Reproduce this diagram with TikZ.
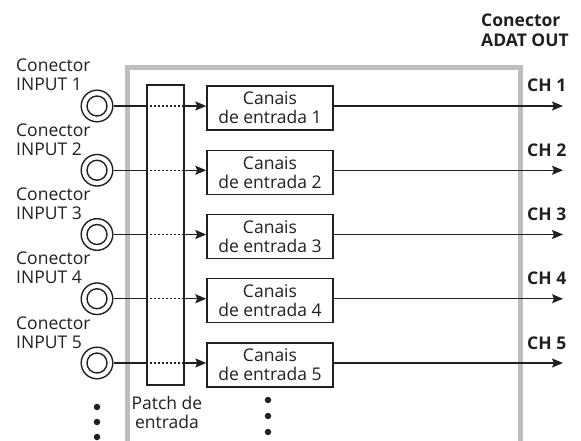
\documentclass[tikz,border=0pt]{standalone}
\usepackage{fontspec}
\setmainfont{Open Sans}
\usetikzlibrary{arrows.meta}
\definecolor{ink}{HTML}{231F20}
\definecolor{frame}{HTML}{BCBEC0}
\begin{document}
\begin{tikzpicture}[x=1bp,y=-1bp,
  txt/.style={font=\fontsize{17.5bp}{19bp}\selectfont, text=ink, inner sep=0pt},
  btxt/.style={font=\fontsize{17.5bp}{20bp}\selectfont\bfseries, text=ink, inner sep=0pt},
  jack/.style={circle, draw=ink, line width=1.4bp, minimum size=31.6bp, inner sep=0pt,
    path picture={\draw[ink, line width=1.4bp] (path picture bounding box.center) circle[radius=10bp];}},
  chbox/.style={draw=ink, line width=1.4bp, minimum width=126bp, minimum height=44bp, inner sep=0pt, align=center,
    font=\fontsize{17.5bp}{19bp}\selectfont, text=ink},
  wire/.style={draw=ink, line width=1.4bp},
  arr/.style={wire, -{Stealth[length=11bp, width=9bp, inset=2bp]}},
  dot/.style={circle, fill=ink, minimum size=6.5bp, inner sep=0pt}
]
\useasboundingbox (0,0) rectangle (581,441);
% frame
\draw[frame, line width=5bp] (127,445) -- (127,68) -- (520,68) -- (520,445);
% patch
\node[draw=ink, line width=1.4bp, minimum width=37bp, minimum height=300bp, inner sep=0pt] (patch) at (165.5,235) {};
% header
\node[btxt, anchor=base west, align=left] (adat) at (481,47) {Conector\\ADAT OUT};
\foreach \i in {1,...,5} {
  \pgfmathsetmacro{\y}{106+64.25*(\i-1)}
  \node[jack] (j\i) at (97,\y) {};
  \node[txt, anchor=base west, align=left] (l\i) at (16,\y-15) {Conector\\INPUT \i};
  \node[chbox] (b\i) at (270,\y+2) {Canais\\de entrada \i};
  \coordinate (o\i) at (563,\y);
  \node[btxt, anchor=base west] (ch\i) at (527,\y-14) {CH \i};
  \draw[wire] (j\i.east) -- (j\i.east -| patch.west);
  \draw[wire, dash pattern=on 2bp off 2bp] (j\i.east -| patch.west) -- (j\i.east -| patch.east);
  \draw[arr] (j\i.east -| patch.east) -- (j\i.east -| b\i.west);
  \draw[arr] (j\i.east -| b\i.east) -- (o\i);
}
\node[txt, anchor=base, align=center] (pl) at (167,428) {Patch de\\entrada};
\node[dot] (d1) at (97,407) {};
\node[dot] (d2) at (97,422) {};
\node[dot] (d3) at (97,437) {};
\node[dot] (e1) at (268,400) {};
\node[dot] (e2) at (268,416) {};
\node[dot] (e3) at (268,432) {};
\end{tikzpicture}
\end{document}
